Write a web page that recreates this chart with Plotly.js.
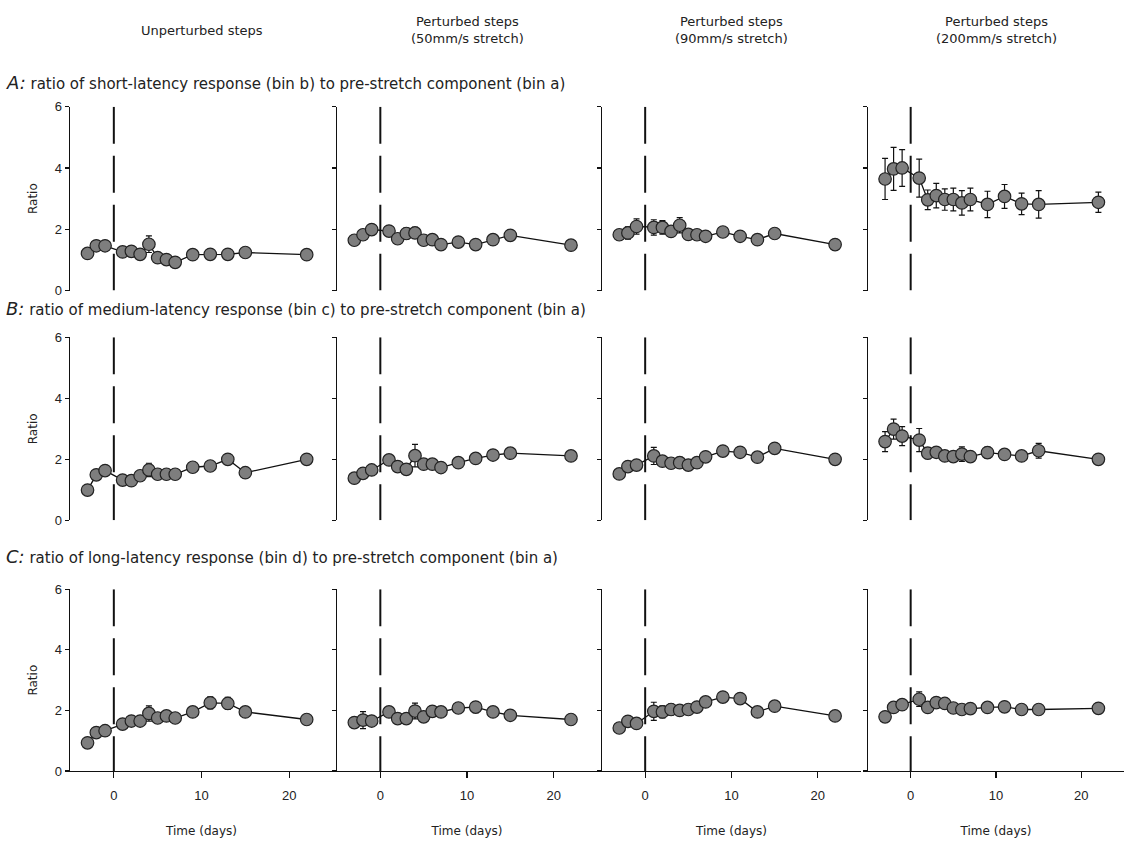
<!DOCTYPE html>
<html>
<head>
<meta charset="utf-8">
<script src="https://cdn.plot.ly/plotly-3.0.1.min.js"></script>
<style>html,body{margin:0;padding:0;background:#fff;}#chart{width:1129px;height:846px;}</style>
</head>
<body>
<div id="chart"></div>
<script>
// ---- data ----
const days = [-3, -2, -1, 1, 2, 3, 4, 5, 6, 7, 9, 11, 13, 15, 22];

const columnTitles = ["Unperturbed steps", "Perturbed steps<br>(50mm/s stretch)", "Perturbed steps<br>(90mm/s stretch)", "Perturbed steps<br>(200mm/s stretch)"];
const rowLetters = ["A:", "B:", "C:"];
const rowTitles = [
  "ratio of short-latency response (bin b) to pre-stretch component (bin a)",
  "ratio of medium-latency response (bin c) to pre-stretch component (bin a)",
  "ratio of long-latency response (bin d) to pre-stretch component (bin a)"
];
const yTicks = [0, 2, 4, 6];
const xTicks = [0, 10, 20];

const A1 = [1.21, 1.46, 1.46, 1.26, 1.28, 1.18, 1.51, 1.07, 1.01, 0.92, 1.17, 1.18, 1.18, 1.24, 1.17];
const A1e = [0.08, 0.10, 0.08, 0.08, 0.08, 0.10, 0.27, 0.08, 0.08, 0.08, 0.06, 0.06, 0.06, 0.06, 0.06];
const A2 = [1.64, 1.82, 1.99, 1.94, 1.69, 1.86, 1.88, 1.64, 1.66, 1.50, 1.58, 1.50, 1.66, 1.80, 1.48];
const A2e = [0.12, 0.15, 0.15, 0.15, 0.15, 0.18, 0.18, 0.15, 0.15, 0.12, 0.10, 0.10, 0.10, 0.12, 0.08];
const A3 = [1.82, 1.88, 2.09, 2.06, 2.06, 1.93, 2.13, 1.83, 1.82, 1.77, 1.91, 1.77, 1.66, 1.86, 1.50];
const A3e = [0.15, 0.20, 0.25, 0.25, 0.22, 0.15, 0.25, 0.15, 0.12, 0.10, 0.10, 0.10, 0.10, 0.10, 0.08];
const A4 = [3.64, 3.97, 4.00, 3.67, 2.96, 3.10, 2.97, 2.97, 2.86, 2.97, 2.81, 3.07, 2.83, 2.81, 2.88];
const A4e = [0.67, 0.70, 0.60, 0.62, 0.32, 0.40, 0.35, 0.37, 0.40, 0.37, 0.43, 0.39, 0.35, 0.45, 0.33];

const B1 = [0.99, 1.49, 1.63, 1.32, 1.30, 1.46, 1.65, 1.51, 1.51, 1.51, 1.74, 1.78, 2.00, 1.56, 2.00];
const B1e = [0.06, 0.10, 0.10, 0.08, 0.08, 0.12, 0.22, 0.10, 0.10, 0.08, 0.10, 0.10, 0.12, 0.06, 0.10];
const B2 = [1.38, 1.54, 1.65, 1.98, 1.76, 1.67, 2.12, 1.84, 1.84, 1.73, 1.89, 2.03, 2.14, 2.20, 2.11];
const B2e = [0.10, 0.10, 0.10, 0.15, 0.15, 0.12, 0.37, 0.12, 0.15, 0.12, 0.12, 0.15, 0.12, 0.15, 0.12];
const B3 = [1.52, 1.76, 1.81, 2.11, 1.94, 1.87, 1.89, 1.81, 1.89, 2.08, 2.27, 2.23, 2.07, 2.36, 2.00];
const B3e = [0.10, 0.10, 0.10, 0.28, 0.12, 0.12, 0.17, 0.10, 0.10, 0.10, 0.12, 0.12, 0.10, 0.10, 0.08];
const B4 = [2.58, 2.99, 2.76, 2.63, 2.20, 2.23, 2.11, 2.09, 2.17, 2.09, 2.22, 2.16, 2.11, 2.28, 2.00];
const B4e = [0.33, 0.33, 0.31, 0.38, 0.18, 0.15, 0.12, 0.12, 0.24, 0.15, 0.18, 0.15, 0.12, 0.24, 0.08];

const C1 = [0.93, 1.27, 1.33, 1.55, 1.65, 1.65, 1.90, 1.75, 1.82, 1.75, 1.95, 2.25, 2.23, 1.95, 1.70];
const C1e = [0.06, 0.10, 0.10, 0.10, 0.12, 0.12, 0.25, 0.15, 0.15, 0.12, 0.12, 0.20, 0.20, 0.10, 0.08];
const C2 = [1.60, 1.68, 1.65, 1.95, 1.73, 1.73, 1.98, 1.79, 1.97, 1.95, 2.08, 2.11, 1.95, 1.84, 1.70];
const C2e = [0.15, 0.28, 0.12, 0.15, 0.12, 0.12, 0.26, 0.12, 0.15, 0.15, 0.15, 0.18, 0.12, 0.12, 0.08];
const C3 = [1.42, 1.64, 1.57, 1.97, 1.95, 2.03, 2.00, 2.03, 2.11, 2.28, 2.44, 2.39, 1.95, 2.14, 1.82];
const C3e = [0.08, 0.10, 0.08, 0.30, 0.20, 0.18, 0.15, 0.12, 0.12, 0.12, 0.10, 0.10, 0.10, 0.10, 0.08];
const C4 = [1.79, 2.10, 2.19, 2.37, 2.10, 2.26, 2.23, 2.08, 2.03, 2.06, 2.10, 2.12, 2.03, 2.03, 2.07];
const C4e = [0.12, 0.12, 0.12, 0.24, 0.15, 0.15, 0.15, 0.12, 0.12, 0.15, 0.15, 0.15, 0.12, 0.12, 0.08];

// ---- layout ----
const W = 1129, H = 846;
const FONT = "Liberation Sans, Arial, Helvetica, sans-serif";
const WIDE = "DejaVu Sans, Verdana, sans-serif";
const colPx = [[70, 333], [337, 597], [602, 861], [868, 1124]];
const rowPx = [[106.7, 290.5], [337.3, 520.3], [589.3, 771]];
const values = [[A1, A2, A3, A4], [B1, B2, B3, B4], [C1, C2, C3, C4]];
const errors = [[A1e, A2e, A3e, A4e], [B1e, B2e, B3e, B4e], [C1e, C2e, C3e, C4e]];

const traces = [];
const layout = {
  width: W, height: H,
  margin: {l: 0, r: 0, t: 0, b: 0},
  paper_bgcolor: "#fff", plot_bgcolor: "rgba(0,0,0,0)",
  showlegend: false,
  font: {family: FONT, size: 12, color: "#222"},
  shapes: [], annotations: []
};

for (let r = 0; r < 3; r++) {
  for (let c = 0; c < 4; c++) {
    const i = r * 4 + c + 1;
    const xn = "x" + i, yn = "y" + i;
    const xk = "xaxis" + (i === 1 ? "" : i), yk = "yaxis" + (i === 1 ? "" : i);
    traces.push({
      type: "scatter", mode: "lines+markers",
      x: days, y: values[r][c], xaxis: xn, yaxis: yn,
      cliponaxis: false,
      line: {color: "#111", width: 1.3},
      marker: {size: 12.5, color: "#7e7e7e", line: {color: "#222", width: 1.2}},
      error_y: {type: "data", array: errors[r][c], visible: true, color: "#111", thickness: 1.2, width: 3}
    });
    const bottom = r === 2;
    layout[xk] = {
      domain: [colPx[c][0] / W, colPx[c][1] / W],
      range: [-5, 25], anchor: yn,
      showgrid: false, zeroline: false,
      showline: bottom, linecolor: "#111", linewidth: 1.3,
      ticks: bottom ? "outside" : "", ticklen: 6, tickwidth: 1.2, tickcolor: "#111",
      ticklabelstandoff: 6,
      tickvals: xTicks, showticklabels: bottom,
      tickfont: {family: FONT, size: 13, color: "#222"},
      title: bottom ? {text: "Time (days)", font: {family: WIDE, size: 12, color: "#222"}, standoff: 24} : {text: ""}
    };
    layout[yk] = {
      domain: [1 - rowPx[r][1] / H, 1 - rowPx[r][0] / H],
      range: [0, 6], anchor: xn,
      showgrid: false, zeroline: false,
      showline: true, linecolor: "#111", linewidth: 1.5,
      ticks: "outside", ticklen: 4, tickwidth: 1.2, tickcolor: "#111",
      tickvals: yTicks, showticklabels: c === 0,
      tickfont: {family: FONT, size: 13, color: "#222"},
      title: c === 0 ? {text: "Ratio", font: {family: WIDE, size: 12, color: "#222"}, standoff: 14} : {text: ""}
    };
    layout.shapes.push({
      type: "line", xref: xn, yref: yn, x0: 0, x1: 0, y0: 6, y1: 0,
      line: {color: "#111", width: 2, dash: "37px,12px"}
    });
  }
}

// column headers
const colCenters = colPx.map(p => (p[0] + p[1]) / 2);
columnTitles.forEach((t, c) => {
  layout.annotations.push({
    xref: "paper", yref: "paper", x: colCenters[c] / W, y: 1 - 30 / H,
    xanchor: "center", yanchor: "middle", showarrow: false, align: "center",
    text: t, font: {family: WIDE, size: 13, color: "#222"}
  });
});

// row titles
const rowTitleY = [82, 308, 556];
rowTitles.forEach((t, r) => {
  layout.annotations.push({
    xref: "paper", yref: "paper", x: 4 / W, y: 1 - rowTitleY[r] / H,
    xanchor: "left", yanchor: "middle", showarrow: false, align: "left",
    text: '<span style="font-size:18px"><i>' + rowLetters[r] + '</i></span> ' + t,
    font: {family: WIDE, size: 15, color: "#222"}
  });
});

Plotly.newPlot("chart", traces, layout, {staticPlot: true, displayModeBar: false});
</script>
</body>
</html>
